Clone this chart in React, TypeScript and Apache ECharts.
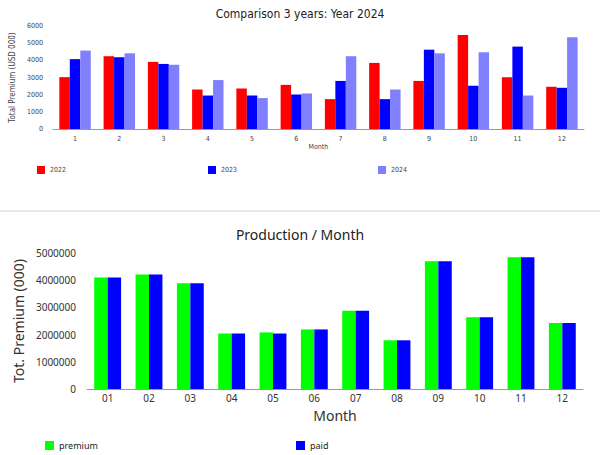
import React, { useEffect, useRef } from "react";
import * as echarts from "echarts";

const months = ["1", "2", "3", "4", "5", "6", "7", "8", "9", "10", "11", "12"];
const y2022 = [3020, 4240, 3910, 2300, 2360, 2570, 1740, 3850, 2800, 5480, 3020, 2460];
const y2023 = [4070, 4180, 3790, 1950, 1950, 2010, 2800, 1740, 4620, 2520, 4800, 2400];
const y2024 = [4570, 4410, 3740, 2850, 1800, 2070, 4240, 2300, 4410, 4470, 1950, 5350];

const prodMonths = ["01", "02", "03", "04", "05", "06", "07", "08", "09", "10", "11", "12"];
const premium = [4100000, 4210000, 3890000, 2040000, 2080000, 2190000, 2880000, 1790000, 4700000, 2640000, 4840000, 2430000];
const paid = [4100000, 4210000, 3890000, 2040000, 2040000, 2190000, 2880000, 1790000, 4700000, 2640000, 4840000, 2430000];

const topFont = "'DejaVu Sans Condensed', 'DejaVu Sans', sans-serif";
const botFont = "'Noto Sans', 'Open Sans', sans-serif";

export default function App() {
  const ref = useRef<HTMLDivElement>(null);
  useEffect(() => {
    if (!ref.current) return;
    const chart = echarts.init(ref.current, undefined, { renderer: "svg" });
    const axisGray = "#999999";
    const lbl = "#444444";
    const plain = (v: number) => String(v);
    chart.setOption({
      animation: false,
      backgroundColor: "#ffffff",
      title: [
        {
          text: "Comparison 3 years: Year 2024",
          left: "center",
          top: 3,
          textStyle: { fontFamily: topFont, fontSize: 12, fontWeight: "normal", color: "#222" },
        },
        {
          text: "Production / Month",
          left: "center",
          top: 222,
          textStyle: { fontFamily: botFont, fontSize: 14, fontWeight: "normal", color: "#222" },
        },
      ],
      legend: [
        { data: ["2022"], icon: "rect", left: 32, top: 161, itemWidth: 8, itemHeight: 8, itemGap: 3, textStyle: { fontFamily: topFont, fontSize: 7, color: lbl } },
        { data: ["2023"], icon: "rect", left: 203, top: 161, itemWidth: 8, itemHeight: 8, textStyle: { fontFamily: topFont, fontSize: 7, color: lbl } },
        { data: ["2024"], icon: "rect", left: 373, top: 161, itemWidth: 8, itemHeight: 8, textStyle: { fontFamily: topFont, fontSize: 7, color: lbl } },
        { data: ["premium"], icon: "rect", left: 40, top: 436, itemWidth: 9, itemHeight: 9, textStyle: { fontFamily: botFont, fontSize: 9, color: "#222" } },
        { data: ["paid"], icon: "rect", left: 291, top: 436, itemWidth: 9, itemHeight: 9, textStyle: { fontFamily: botFont, fontSize: 9, color: "#222" } },
      ],
      grid: [
        { left: 44, right: 16, top: 26, bottom: 326 },
        { left: 87, right: 17, top: 253, bottom: 66 },
      ],
      xAxis: [
        {
          type: "category",
          gridIndex: 0,
          data: months,
          name: "Month",
          nameLocation: "middle",
          nameGap: 14,
          nameTextStyle: { fontFamily: topFont, fontSize: 7, color: lbl },
          axisLine: { lineStyle: { color: axisGray } },
          axisTick: { show: false },
          axisLabel: { fontFamily: topFont, fontSize: 7, color: lbl, margin: 6 },
        },
        {
          type: "category",
          gridIndex: 1,
          data: prodMonths,
          name: "Month",
          nameLocation: "middle",
          nameGap: 19,
          nameTextStyle: { fontFamily: botFont, fontSize: 14, color: "#333" },
          axisLine: { lineStyle: { color: axisGray } },
          axisTick: { show: false },
          axisLabel: { fontFamily: botFont, fontSize: 10, color: "#333", margin: 4 },
        },
      ],
      yAxis: [
        {
          type: "value",
          gridIndex: 0,
          min: 0,
          max: 6000,
          interval: 1000,
          name: "Total Premium (USD 000)",
          nameLocation: "middle",
          nameGap: 33,
          nameTextStyle: { fontFamily: topFont, fontSize: 8, color: lbl },
          axisLine: { show: false },
          axisTick: { show: false },
          splitLine: { show: false },
          axisLabel: { fontFamily: topFont, fontSize: 7, color: lbl, margin: 10, formatter: plain },
        },
        {
          type: "value",
          gridIndex: 1,
          min: 0,
          max: 5000000,
          interval: 1000000,
          name: "Tot. Premium (000)",
          nameLocation: "middle",
          nameGap: 62,
          nameTextStyle: { fontFamily: botFont, fontSize: 14, color: "#333" },
          axisLine: { show: false },
          axisTick: { show: false },
          splitLine: { show: false },
          axisLabel: { fontFamily: botFont, fontSize: 10, color: "#333", margin: 11, formatter: plain },
        },
      ],
      graphic: [
        { type: "line", shape: { x1: 0, y1: 211, x2: 600, y2: 211 }, style: { stroke: "#d0d0d0", lineWidth: 1 } },
      ],
      series: [
        { name: "2022", type: "bar", xAxisIndex: 0, yAxisIndex: 0, data: y2022, itemStyle: { color: "#ff0000" }, barGap: "0%", barCategoryGap: "29%" },
        { name: "2023", type: "bar", xAxisIndex: 0, yAxisIndex: 0, data: y2023, itemStyle: { color: "#0000ff" }, barGap: "0%", barCategoryGap: "29%" },
        { name: "2024", type: "bar", xAxisIndex: 0, yAxisIndex: 0, data: y2024, itemStyle: { color: "#8080ff" }, barGap: "0%", barCategoryGap: "29%" },
        { name: "premium", type: "bar", xAxisIndex: 1, yAxisIndex: 1, data: premium, itemStyle: { color: "#00ff00" }, barGap: "0%", barCategoryGap: "35%" },
        { name: "paid", type: "bar", xAxisIndex: 1, yAxisIndex: 1, data: paid, itemStyle: { color: "#0000ff" }, barGap: "0%", barCategoryGap: "35%" },
      ],
    });
    return () => chart.dispose();
  }, []);
  return <div ref={ref} style={{ position: "absolute", left: 0, top: 0, width: 600, height: 455 }} />;
}
